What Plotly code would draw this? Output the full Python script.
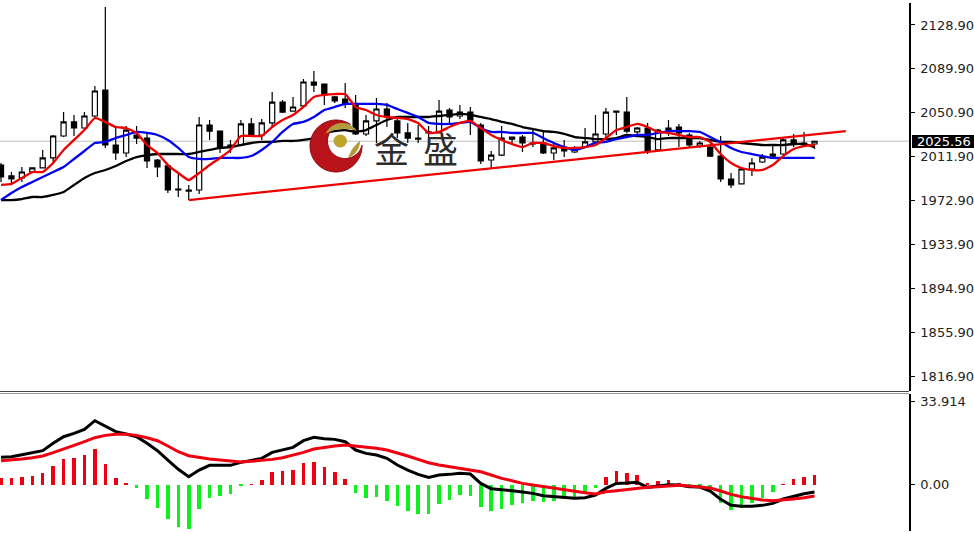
import math
import plotly.graph_objects as go
from plotly.subplots import make_subplots

open_ = [2004.4,1994.7,1992.9,1998.2,2001.8,2010.7,2030.2,2042.7,2037.3,2048,2071.1,2022.2,2015.1,2031.1,2028.4,2008.9,2003.6,1983.1,1982.2,1982.2,
         2040,2034.6,2022.2,2022.2,2040.9,2031.1,2041.8,2060.4,2052.4,2056.9,2078.2,2076.4,2064.9,2063.1,2057.8,2032,2043.6,2054.2,2043.6,2032.9,
         2028.4,2032.9,2032.9,2053.3,2048,2051.5,2040,2008.9,2013.3,2027.5,2029.3,2024,2024,2015.1,2020.4,2016,2020.4,2024.9,2032,2051.5,
         2051.5,2033.8,2037.3,2017.8,2035.5,2038.2,2031.1,2021.3,2020.4,2012.4,1992,1987.6,2000.9,2007.1,2012.4,2014.2,2026.7,2024,2023.1]
high = [2006.2,1998.2,2002.7,2001.8,2017.8,2031.1,2051.5,2048.9,2051.5,2074.7,2144.9,2037.3,2039.1,2039.1,2032.9,2009.8,2004.4,1996.4,1986.7,2047.1,
        2044.4,2034.6,2026.7,2044.4,2046.2,2045.3,2069.3,2062.2,2064.9,2080.9,2088,2076.4,2065.8,2077.3,2066.7,2048.9,2064,2059.5,2047.1,2041.8,
        2040,2039.1,2062.2,2055.1,2057.8,2056,2041.8,2016.9,2039.1,2029.3,2031.1,2035.5,2035.5,2024,2026.7,2021.3,2037.3,2048.9,2055.1,2052.4,
        2064.9,2038.2,2041.8,2036.4,2044.4,2040.9,2032.9,2025.8,2023.1,2030.2,1997.3,2000.9,2010.7,2014.2,2022.2,2029.3,2032,2033.8,2025.56]
low = [1989.3,1987.6,1989.3,1997.3,2001.8,2007.1,2029.3,2030.2,2036.4,2047.1,2019.6,2008.9,2011.5,2023.1,2001.8,1993.8,1979.5,1976,1973.3,1978.7,
       2026.7,2015.1,2015.1,2021.3,2030.2,2026.7,2037.3,2050.7,2052.4,2056,2069.3,2057.8,2059.5,2055.1,2031.1,2030.2,2024,2038.2,2028.4,2024,
       2024,2029.3,2032.9,2040,2045.3,2031.1,2005.3,2001.8,2012.4,2024,2016,2020.4,2014.2,2008.9,2011.5,2015.1,2019.6,2024,2029.3,2031.1,
       2032.9,2031.1,2014.2,2017.8,2030.2,2020.4,2020.4,2019.6,2011.5,1989.3,1984,1987.6,1994.7,2006.2,2010.7,2013.3,2020.4,2020.4,2018.7]
close = [1993.8,1992,1998.2,2001.8,2010.7,2030.2,2042.7,2037.3,2048,2070.2,2022.2,2015.1,2035.5,2028.4,2008,2002.7,1982.2,1982.2,1981.3,2040,
         2034.6,2019.6,2020.4,2040.9,2031.1,2041.8,2060.4,2051.5,2056,2078.2,2075.5,2066.7,2061.3,2058.7,2032,2043.6,2054.2,2047.1,2032.9,2028.4,
         2027.5,2033.8,2052.4,2047.1,2051.5,2044.4,2008,2013.3,2028.4,2029.3,2024,2023.1,2015.1,2019.6,2016.9,2019.6,2024.9,2032,2051.5,2052.4,
         2034.6,2037.3,2016.9,2035.5,2037.3,2032.9,2022.2,2024,2012.4,1992,1986.7,2000.9,2006.2,2011.5,2014.2,2026.7,2023.1,2022.2,2025.56]

ma_red = [1986.7,1987.6,1992.9,1998.2,1998.2,2006.2,2017.8,2026.7,2035.5,2046.2,2042.7,2038.2,2037.3,2032.9,2022.2,2015.1,2004.4,1997.3,1991.1,1997.3,
          2004.4,2010.7,2017.8,2030.2,2030.2,2030.2,2038.2,2044.4,2048.9,2056,2064.9,2066.7,2067.5,2067.5,2056,2053.3,2048.9,2047.1,2046.2,2045.3,
          2041.8,2032.9,2033.8,2038.2,2041.8,2043.6,2037.3,2031.1,2026.7,2023.1,2020.4,2024,2024,2021.3,2019.6,2019.6,2020.4,2022.2,2028.4,2035.5,
          2038.2,2040.9,2038.2,2033.8,2032.9,2031.1,2029.3,2029.3,2024.9,2014.2,2006.2,2001.8,2000,2000,2004.4,2012.4,2018.7,2021.3,2022.2]
ma_blue = [1973.3,1979.5,1984.9,1989.3,1993.8,1998.2,2002.7,2009.8,2016.9,2024,2024.9,2028.4,2031.1,2033.8,2032.9,2031.1,2026.7,2019.6,2011.5,2009.8,
           2009.8,2010.7,2010.7,2010.7,2012.4,2017.8,2024.9,2033.8,2040.9,2042.7,2047.1,2053.3,2056,2058.7,2058.7,2058.7,2058.7,2057.8,2054.2,2050.7,
           2047.1,2041.8,2040.9,2040.9,2041.8,2042.7,2037.3,2033.8,2033.8,2032.9,2032.9,2032.9,2028.4,2024,2020.4,2017.8,2020.4,2024,2024.9,2027.5,
           2029.3,2031.1,2031.1,2032.9,2034.6,2034.6,2034.6,2033.8,2029.3,2024.9,2019.6,2016,2014.2,2012.4,2010.7,2010.7,2010.7,2010.7,2010.7]
ma_black = [1973.3,1973.3,1974.2,1976,1976,1977.8,1980.4,1986.7,1992.9,1997.3,2000,2003.6,2008,2011.5,2013.3,2014.2,2014.2,2014.2,2014.2,2016,
            2017.8,2019.6,2020.4,2022.2,2024,2024.9,2024.9,2025.8,2025.8,2026.7,2028.4,2032.9,2034.6,2035.5,2033.8,2035.5,2040,2044.4,2047.1,2047.1,
            2047.1,2047.1,2048,2048.9,2049.8,2048.9,2047.1,2045.3,2042.7,2040.9,2038.2,2036.4,2034.6,2033.8,2032,2029.3,2028.4,2027.5,2027.5,2028.4,
            2031.1,2030.2,2029.3,2027.5,2028.4,2028.4,2028.4,2028.4,2026.7,2024.9,2024.9,2024,2023.1,2022.2,2022.2,2022.2,2023.1,2023.1,2020.4]

trend_idx = [18, 81]
trend_val = [1973.3, 2034.6]

macd_hist = [2.74,2.74,3.27,3.55,4.62,7.64,10.5,10.75,12.14,14.42,8.46,2.86,0.53,-1.23,-5.72,-9.4,-14.18,-17.16,-18.1,-10.09,
             -5.43,-4.62,-3.96,-0.41,0.12,1.92,5.19,5.6,6.01,8.7,9.4,7.07,5.03,2.45,-3.27,-5.31,-4.9,-6.54,-8.58,-10.75,
             -11.85,-11.85,-7.89,-6.13,-4.37,-4.62,-8.99,-10.75,-9.81,-8.29,-7.64,-6.82,-7.23,-6.54,-5.84,-5.19,-3.55,-1.23,3.15,5.72,
             4.62,3.8,0.82,1.35,1.76,0.82,-0.2,-0.41,-2.04,-7.35,-10.2,-9.68,-7.64,-5.6,-3.15,0.2,2.17,3.27,3.96]
macd_line = [11.17,11.44,12.26,12.94,13.89,16.89,19.61,20.97,22.61,26.15,23.97,21.66,20.7,19.61,16.89,13.89,10.08,6.27,3.27,5.99,
             7.9,7.9,7.9,9.13,9.81,10.76,13.21,14.16,15.25,17.98,19.34,18.8,18.52,17.57,14.16,12.8,12.12,10.76,8.04,5.99,
             4.22,3,3.95,4.22,4.63,4.36,0.54,-1.63,-1.91,-2.45,-3,-3.54,-4.49,-4.77,-5.31,-5.58,-5.31,-4.22,-1.5,0.54,
             0.68,0.95,-1.09,-0.54,0,-0.14,-0.82,-0.95,-2.59,-5.99,-8.44,-8.85,-8.85,-8.44,-7.63,-5.86,-4.63,-3.68,-3]
macd_signal = [9.81,10.08,10.49,11.03,11.71,13.08,14.71,16.07,17.57,19.2,20.16,20.57,20.57,20.16,19.2,17.98,15.8,13.48,11.85,11.03,
               10.49,10.08,9.53,9.26,9.53,9.81,10.35,11.03,11.99,13.21,14.57,15.25,15.8,16.21,15.8,15.25,14.85,14.16,13.08,11.71,
               10.35,8.99,8.04,7.35,6.95,6.27,5.31,3.95,2.59,1.63,0.54,-0.14,-0.82,-1.5,-2.18,-2.86,-3.27,-3.81,-2.86,-2.45,
               -1.91,-1.5,-1.09,-0.82,-0.41,-0.27,-0.54,-0.82,-1.36,-2.59,-3.95,-4.9,-5.58,-6.27,-6.54,-6.27,-5.86,-5.31,-4.63]

price_ticks = [2128.90,2089.90,2050.90,2011.90,1972.90,1933.90,1894.90,1855.90,1816.90]
macd_ticks = [33.914, 0.0]
macd_tick_labels = ["33.914", "0.00"]
last_price = 2025.56
idx = list(range(len(close)))

W, H = 974, 533
fx = lambda x: x / W
fy = lambda y: 1 - y / H
TICK_FONT = dict(family="DejaVu Sans", size=13, color="#222222")

fig = make_subplots(rows=2, cols=1, shared_xaxes=True)

fig.add_trace(go.Candlestick(x=idx, open=open_, high=high, low=low, close=close,
                             whiskerwidth=0, showlegend=False,
                             increasing=dict(line=dict(color="#000000", width=1.2), fillcolor="#ffffff"),
                             decreasing=dict(line=dict(color="#000000", width=1.2), fillcolor="#000000")),
              row=1, col=1)
for vals, col in ((ma_black, "#000000"), (ma_blue, "#0000ee"), (ma_red, "#ee0000")):
    fig.add_trace(go.Scatter(x=idx, y=vals, mode="lines", showlegend=False,
                             line=dict(color=col, width=2.3, shape="spline", smoothing=0.4)),
                  row=1, col=1)
fig.add_trace(go.Scatter(x=trend_idx, y=trend_val, mode="lines", showlegend=False,
                         line=dict(color="#ee0000", width=2.2)), row=1, col=1)

fig.add_trace(go.Bar(x=idx, y=macd_hist, width=0.34, showlegend=False,
                     marker=dict(color=["#ee0010" if v >= 0 else "#10ee20" for v in macd_hist], line_width=0)),
              row=2, col=1)
fig.add_trace(go.Scatter(x=idx, y=macd_line, mode="lines", showlegend=False,
                         line=dict(color="#000000", width=3)), row=2, col=1)
fig.add_trace(go.Scatter(x=idx, y=macd_signal, mode="lines", showlegend=False,
                         line=dict(color="#ee0010", width=3)), row=2, col=1)

# watermark logo
cx, cy, R = 336, 146, 26
ix, iy, r = 345, 141, 17.5
d = math.hypot(ix - cx, iy - cy)
base = math.atan2(iy - cy, ix - cx)
a_out = math.acos((d * d + R * R - r * r) / (2 * d * R))
a_in = math.acos((d * d + r * r - R * R) / (2 * d * r))
n = 60
outer = [(cx + R * math.cos(base + a_out + (2 * math.pi - 2 * a_out) * k / n),
          cy + R * math.sin(base + a_out + (2 * math.pi - 2 * a_out) * k / n)) for k in range(n + 1)]
inner = [(ix + r * math.cos(base + math.pi + a_in - 2 * a_in * k / n),
          iy + r * math.sin(base + math.pi + a_in - 2 * a_in * k / n)) for k in range(n + 1)]
pts = outer + inner
def poly(points):
    return "M" + " L".join(f"{fx(x):.5f},{fy(y):.5f}" for x, y in points) + " Z"
def swoosh(c_x, c_y, rad, a0, a1, thick):
    up, down = [], []
    m = 24
    for k in range(m + 1):
        u = k / m
        t = math.radians(a0 + (a1 - a0) * u)
        w = thick * math.sin(math.pi * u) ** 0.7
        up.append((c_x + rad * math.cos(t), c_y + rad * math.sin(t)))
        down.append((c_x + (rad - w) * math.cos(t), c_y + (rad - w) * math.sin(t)))
    return up + down[::-1]

shapes = [
    dict(type="line", xref="x", yref="y", x0=-1, x1=88, y0=last_price, y1=last_price,
         line=dict(color="#bdbdbd", width=1), layer="below"),
    dict(type="line", xref="paper", yref="paper", x0=0, x1=fx(909), y0=fy(391.5), y1=fy(391.5),
         line=dict(color="#444444", width=1)),
    dict(type="line", xref="paper", yref="paper", x0=0, x1=fx(909), y0=fy(393.5), y1=fy(393.5),
         line=dict(color="#9a9a9a", width=1)),
    dict(type="path", xref="paper", yref="paper", path=poly(pts), fillcolor="#b8121b", line=dict(color="#8c0d12", width=1)),
    dict(type="circle", xref="paper", yref="paper", x0=fx(333.5), x1=fx(347), y0=fy(147.5), y1=fy(134.5),
         fillcolor="#bfa32c", line_width=0),
    dict(type="path", xref="paper", yref="paper", path=poly(swoosh(342, 141, 18, 205, 325, 6)),
         fillcolor="#b39a3a", line_width=0),
    dict(type="path", xref="paper", yref="paper", path=poly(swoosh(342, 141, 18, 0, 70, 5)),
         fillcolor="#b39a3a", line_width=0),
    dict(type="rect", xref="paper", yref="paper", x0=fx(912), x1=1.0, y0=fy(148), y1=fy(135),
         fillcolor="#000000", line_width=0),
]
annotations = [
    dict(text="金", xref="paper", yref="paper", x=fx(391), y=fy(147), showarrow=False, yanchor="middle",
         font=dict(family="Noto Sans CJK SC", size=35, color="#2c2c2c")),
    dict(text="盛", xref="paper", yref="paper", x=fx(440), y=fy(147), showarrow=False, yanchor="middle",
         font=dict(family="Noto Sans CJK SC", size=35, color="#2c2c2c")),
    dict(text=f"{last_price:.2f}", xref="paper", yref="paper", x=fx(916), y=fy(141), xanchor="left",
         yanchor="middle", showarrow=False, borderpad=0,
         font=dict(family="DejaVu Sans", size=13, color="#ffffff")),
]

axis_line = dict(showline=True, linecolor="#000000", linewidth=1.5, side="right", showgrid=False,
                 zeroline=False, ticks="outside", ticklen=4, tickcolor="#000000", tickwidth=1,
                 tickfont=TICK_FONT, ticklabeloverflow="allow", ticklabelstandoff=3)

x_dom = [0, fx(909)]
x_rng = [-0.096, 87.06]
fig.update_layout(
    width=W, height=H, margin=dict(l=0, r=0, t=0, b=0), autosize=False,
    paper_bgcolor="#ffffff", plot_bgcolor="#ffffff", showlegend=False,
    shapes=shapes, annotations=annotations, bargap=0,
    xaxis=dict(domain=x_dom, range=x_rng, visible=False, rangeslider=dict(visible=False)),
    xaxis2=dict(domain=x_dom, range=x_rng, visible=False, rangeslider=dict(visible=False)),
    yaxis=dict(domain=[fy(391), fy(3)], range=[1803.6, 2148.4], tickvals=price_ticks,
               ticktext=[f"{v:.2f}" for v in price_ticks], **axis_line),
    yaxis2=dict(domain=[fy(531), fy(394)], range=[-18.92, 37.06], tickvals=macd_ticks,
                ticktext=macd_tick_labels, **axis_line),
)

fig.write_html("out.html", config=dict(displayModeBar=False),
               post_script=("document.documentElement.style.overflow='hidden';"
                            "document.body.style.overflow='hidden';document.body.style.margin='0';"))
